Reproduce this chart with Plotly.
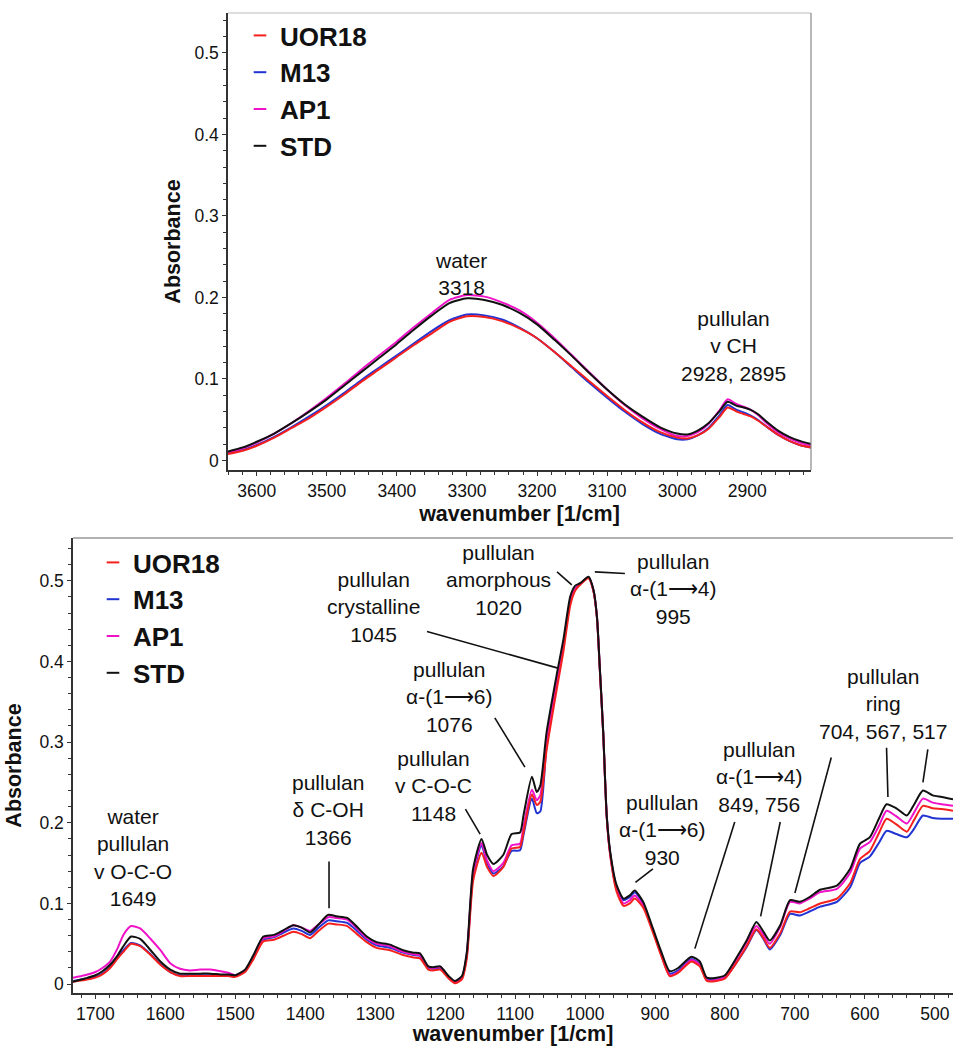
import plotly.graph_objects as go

# ---------------- data: top panel (OH / CH region) ----------------
top_wn = [3641, 3620, 3600, 3575, 3550, 3525, 3500, 3475, 3450, 3425, 3400, 3375, 3350, 3325,
          3300, 3275, 3250, 3225, 3200, 3175, 3150, 3125, 3100, 3075, 3050, 3025, 3000, 2985,
          2970, 2955, 2940, 2928, 2915, 2905, 2895, 2885, 2870, 2855, 2840, 2825, 2809]
top_std = [0.011, 0.016, 0.023, 0.033, 0.046, 0.060, 0.075, 0.092, 0.109, 0.126, 0.143, 0.161, 0.178, 0.193,
           0.199, 0.197, 0.191, 0.181, 0.167, 0.148, 0.128, 0.107, 0.087, 0.069, 0.054, 0.041, 0.033, 0.032,
           0.037, 0.046, 0.060, 0.072, 0.067, 0.065, 0.062, 0.057, 0.046, 0.036, 0.029, 0.024, 0.020]
top_ap1 = [0.010, 0.015, 0.022, 0.033, 0.046, 0.061, 0.077, 0.094, 0.112, 0.129, 0.146, 0.164, 0.181, 0.197,
           0.203, 0.201, 0.194, 0.184, 0.169, 0.150, 0.129, 0.108, 0.087, 0.068, 0.052, 0.039, 0.030, 0.030,
           0.035, 0.045, 0.061, 0.075, 0.069, 0.066, 0.062, 0.056, 0.044, 0.034, 0.027, 0.022, 0.018]
top_uor18 = [0.008, 0.012, 0.018, 0.028, 0.040, 0.052, 0.066, 0.081, 0.097, 0.112, 0.127, 0.142, 0.156, 0.170,
             0.177, 0.176, 0.171, 0.162, 0.150, 0.133, 0.115, 0.097, 0.079, 0.062, 0.047, 0.035, 0.028, 0.027,
             0.031, 0.039, 0.053, 0.065, 0.060, 0.057, 0.054, 0.049, 0.040, 0.031, 0.024, 0.019, 0.016]
top_m13 = [0.009, 0.013, 0.019, 0.029, 0.041, 0.054, 0.068, 0.083, 0.099, 0.114, 0.129, 0.144, 0.159, 0.172,
           0.179, 0.178, 0.173, 0.163, 0.150, 0.133, 0.114, 0.095, 0.077, 0.060, 0.045, 0.033, 0.026, 0.026,
           0.031, 0.040, 0.055, 0.068, 0.062, 0.059, 0.055, 0.050, 0.040, 0.031, 0.024, 0.019, 0.016]

# ---------------- data: bottom panel (fingerprint region) ----------------
bot_wn = [1732, 1715, 1700, 1690, 1679, 1668, 1660, 1649, 1636, 1621, 1607, 1593, 1579, 1565, 1550, 1535,
          1521, 1510, 1500, 1486, 1474, 1460, 1445, 1431, 1417, 1405, 1393, 1381, 1367, 1355, 1340, 1326,
          1312, 1298, 1279, 1260, 1245, 1236, 1224, 1217, 1207, 1195, 1186, 1176, 1169, 1160, 1148, 1140,
          1131, 1117, 1105, 1093, 1088, 1076, 1069, 1064, 1055, 1040, 1031, 1021, 1014, 1007, 995, 988,
          983, 979, 974, 969, 964, 955, 945, 936, 929, 917, 903, 891, 879, 867, 848, 836, 826, 812, 800,
          784, 769, 755, 745, 736, 721, 707, 693, 679, 664, 640, 621, 607, 593, 580, 569, 555, 540, 530,
          517, 503, 490, 474]
bot_std = [0.003, 0.007, 0.011, 0.016, 0.024, 0.036, 0.047, 0.059, 0.056, 0.042, 0.028, 0.018, 0.013, 0.013, 0.013, 0.013,
           0.012, 0.012, 0.011, 0.018, 0.036, 0.059, 0.061, 0.067, 0.073, 0.070, 0.064, 0.074, 0.086, 0.084, 0.082, 0.071,
           0.059, 0.052, 0.049, 0.042, 0.039, 0.038, 0.022, 0.021, 0.022, 0.010, 0.004, 0.010, 0.040, 0.143, 0.180, 0.160,
           0.149, 0.160, 0.186, 0.188, 0.209, 0.257, 0.238, 0.246, 0.312, 0.386, 0.427, 0.481, 0.494, 0.497, 0.505, 0.489,
           0.456, 0.394, 0.312, 0.209, 0.164, 0.123, 0.106, 0.110, 0.116, 0.102, 0.069, 0.040, 0.016, 0.020, 0.034, 0.028, 0.008, 0.008, 0.011,
           0.032, 0.054, 0.077, 0.065, 0.054, 0.073, 0.104, 0.102, 0.108, 0.117, 0.122, 0.143, 0.174, 0.182, 0.205, 0.223, 0.218, 0.209, 0.222,
           0.240, 0.234, 0.232, 0.229]
bot_ap1 = [0.008, 0.011, 0.015, 0.020, 0.028, 0.045, 0.061, 0.072, 0.069, 0.056, 0.042, 0.026, 0.019, 0.017, 0.018, 0.018,
           0.016, 0.014, 0.011, 0.017, 0.034, 0.057, 0.059, 0.066, 0.073, 0.070, 0.066, 0.074, 0.083, 0.082, 0.080, 0.069,
           0.057, 0.050, 0.047, 0.040, 0.037, 0.036, 0.021, 0.020, 0.021, 0.009, 0.003, 0.009, 0.037, 0.138, 0.175, 0.153,
           0.140, 0.150, 0.172, 0.174, 0.195, 0.241, 0.228, 0.234, 0.300, 0.378, 0.420, 0.476, 0.490, 0.496, 0.504, 0.488,
           0.455, 0.392, 0.310, 0.207, 0.160, 0.118, 0.100, 0.104, 0.110, 0.098, 0.066, 0.036, 0.011, 0.015, 0.030, 0.024, 0.005, 0.005, 0.009,
           0.030, 0.052, 0.072, 0.061, 0.050, 0.071, 0.102, 0.100, 0.106, 0.114, 0.118, 0.138, 0.168, 0.176, 0.196, 0.215, 0.208, 0.199, 0.212,
           0.230, 0.225, 0.223, 0.221]
bot_uor18 = [0.003, 0.005, 0.008, 0.012, 0.020, 0.032, 0.040, 0.050, 0.047, 0.036, 0.024, 0.015, 0.010, 0.010, 0.010, 0.010,
             0.010, 0.010, 0.009, 0.015, 0.031, 0.053, 0.055, 0.060, 0.065, 0.062, 0.057, 0.066, 0.075, 0.074, 0.072, 0.062,
             0.052, 0.045, 0.042, 0.036, 0.033, 0.032, 0.018, 0.017, 0.018, 0.007, 0.001, 0.006, 0.032, 0.128, 0.163, 0.145,
             0.134, 0.145, 0.168, 0.170, 0.188, 0.235, 0.222, 0.226, 0.290, 0.368, 0.412, 0.470, 0.488, 0.495, 0.503, 0.487,
             0.454, 0.392, 0.310, 0.207, 0.160, 0.115, 0.097, 0.100, 0.106, 0.095, 0.064, 0.035, 0.010, 0.014, 0.028, 0.022, 0.004, 0.004, 0.007,
             0.026, 0.047, 0.068, 0.057, 0.045, 0.063, 0.090, 0.089, 0.094, 0.100, 0.106, 0.125, 0.155, 0.165, 0.187, 0.205, 0.198, 0.189, 0.203,
             0.221, 0.218, 0.217, 0.215]
bot_m13 = [0.004, 0.006, 0.009, 0.013, 0.021, 0.033, 0.042, 0.051, 0.048, 0.037, 0.025, 0.015, 0.011, 0.011, 0.011, 0.011,
           0.011, 0.011, 0.010, 0.016, 0.033, 0.055, 0.058, 0.064, 0.069, 0.066, 0.061, 0.070, 0.079, 0.078, 0.076, 0.066,
           0.055, 0.048, 0.045, 0.039, 0.036, 0.035, 0.020, 0.019, 0.020, 0.008, 0.002, 0.008, 0.036, 0.135, 0.172, 0.150,
           0.137, 0.146, 0.165, 0.166, 0.185, 0.230, 0.212, 0.214, 0.295, 0.375, 0.418, 0.476, 0.490, 0.496, 0.504, 0.488,
           0.455, 0.393, 0.311, 0.208, 0.162, 0.120, 0.104, 0.108, 0.114, 0.100, 0.067, 0.037, 0.013, 0.017, 0.031, 0.025, 0.006, 0.006, 0.008,
           0.026, 0.046, 0.067, 0.056, 0.043, 0.061, 0.087, 0.085, 0.090, 0.096, 0.102, 0.120, 0.150, 0.158, 0.175, 0.190, 0.186, 0.182, 0.192,
           0.209, 0.206, 0.205, 0.205]

series_names = ["UOR18", "M13", "AP1", "STD"]
series_colors = {"UOR18": "#f5201e", "M13": "#2233d4", "AP1": "#f012c8", "STD": "#111111"}
top_series = {"UOR18": top_uor18, "M13": top_m13, "AP1": top_ap1, "STD": top_std}
bot_series = {"UOR18": bot_uor18, "M13": bot_m13, "AP1": bot_ap1, "STD": bot_std}
draw_order = ["M13", "AP1", "UOR18", "STD"]

ARROW = "⟶"
# annotation labels: (text, wavenumber, absorbance)
top_labels = [("water<br>3318", 3308, 0.229),
              ("pullulan<br>v CH<br>2928, 2895", 2920, 0.141)]
bot_labels = [("water<br>pullulan<br>v O-C-O<br>1649", 1646, 0.157),
              ("pullulan<br>δ C-OH<br>1366", 1367, 0.216),
              ("pullulan<br>v C-O-C<br>1148", 1217, 0.246),
              ("pullulan<br>α-(1" + ARROW + "6)<br>1076", 1195, 0.356),
              ("pullulan<br>crystalline<br>1045", 1302, 0.467),
              ("pullulan<br>amorphous<br>1020", 1124, 0.501),
              ("pullulan<br>α-(1" + ARROW + "4)<br>995", 874, 0.490),
              ("pullulan<br>α-(1" + ARROW + "6)<br>930", 890, 0.191),
              ("pullulan<br>α-(1" + ARROW + "4)<br>849, 756", 752, 0.257),
              ("pullulan<br>ring<br>704, 567, 517", 574, 0.347)]
# leader lines: (wn0, a0, wn1, a1)
bot_leaders = [(1366, 0.152, 1366, 0.094),
               (1171, 0.217, 1150, 0.186),
               (1129, 0.330, 1086, 0.269),
               (1226, 0.437, 1040, 0.392),
               (1040, 0.511, 1019, 0.495),
               (943, 0.509, 986, 0.511),
               (903, 0.143, 928, 0.126),
               (786, 0.201, 843, 0.044),
               (721, 0.201, 749, 0.084),
               (648, 0.281, 700, 0.113),
               (569, 0.293, 567, 0.232),
               (510, 0.291, 517, 0.250)]

FONT = "Liberation Sans, Arial, sans-serif"
W, H = 953, 1046

fig = go.Figure()

for name in draw_order:
    fig.add_trace(go.Scatter(x=top_wn, y=top_series[name], mode="lines", name=name,
                             line=dict(color=series_colors[name], width=2, shape="spline", smoothing=0.6),
                             xaxis="x", yaxis="y", showlegend=False, legendgroup="t" + name))
    fig.add_trace(go.Scatter(x=bot_wn, y=bot_series[name], mode="lines", name=name,
                             line=dict(color=series_colors[name], width=2, shape="spline", smoothing=0.6),
                             xaxis="x2", yaxis="y2", showlegend=False, legendgroup="b" + name))

# legend entries (short dash symbols like the original)
for name in series_names:
    for ax, lg, grp in (("x", "legend", "t"), ("x2", "legend2", "b")):
        fig.add_trace(go.Scatter(x=[None], y=[None], mode="markers", name=name,
                                 marker=dict(symbol="line-ew", size=9, color=series_colors[name],
                                             line=dict(width=2, color=series_colors[name])),
                                 xaxis=ax, yaxis="y" if ax == "x" else "y2",
                                 legend=lg, legendgroup=grp + name, showlegend=True))

axis_common = dict(showgrid=False, zeroline=False, showline=True, linecolor="#333", linewidth=1.5,
                   ticks="outside", ticklen=4, tickwidth=1.2, tickcolor="#333",
                   tickfont=dict(family=FONT, size=17.5, color="#111"))
xminor = dict(dtick=20, ticks="outside", ticklen=3, tickwidth=1, tickcolor="#333")
yminor = dict(dtick=0.02, ticks="outside", ticklen=3, tickwidth=1, tickcolor="#333")
title_font = dict(family=FONT, size=21.5, color="#111")
legend_font = dict(family=FONT, size=26, color="#111", weight="bold")

fig.update_layout(
    width=W, height=H, margin=dict(l=0, r=0, t=0, b=0),
    paper_bgcolor="white", plot_bgcolor="white",
    xaxis=dict(domain=[228 / W, 811 / W], range=[3641, 2809], dtick=100, tick0=0, minor=xminor,
               anchor="y", title=dict(text="<b>wavenumber [1/cm]</b>", font=title_font, standoff=6),
               **axis_common),
    yaxis=dict(domain=[1 - 470 / H, 1 - 13 / H], range=[-0.0117, 0.549], dtick=0.1, tick0=0, minor=yminor,
               anchor="x", title=dict(text="<b>Absorbance</b>", font=title_font, standoff=8),
               **axis_common),
    xaxis2=dict(domain=[73 / W, 1.0], range=[1732, 474], dtick=100, tick0=0, minor=xminor,
                anchor="y2", title=dict(text="<b>wavenumber [1/cm]</b>", font=title_font, standoff=6),
                **axis_common),
    yaxis2=dict(domain=[1 - 993 / H, 1 - 538 / H], range=[-0.011, 0.553], dtick=0.1, tick0=0, minor=yminor,
                anchor="x2", title=dict(text="<b>Absorbance</b>", font=title_font, standoff=12),
                **axis_common),
    legend=dict(x=240 / W, y=1 - 12 / H, xanchor="left", yanchor="top", bgcolor="rgba(0,0,0,0)",
                font=legend_font, tracegroupgap=0, itemwidth=30, traceorder="normal"),
    legend2=dict(x=93 / W, y=1 - 539 / H, xanchor="left", yanchor="top", bgcolor="rgba(0,0,0,0)",
                 font=legend_font, tracegroupgap=0, itemwidth=30, traceorder="normal"),
)

# light frame (top and right edges)
for xr, yr, col in (("x domain", "y domain", "#bbbbbb"), ("x2 domain", "y2 domain", "#666666")):
    fig.add_shape(type="line", xref=xr, yref=yr, x0=0, x1=1, y0=1, y1=1, line=dict(color=col, width=1.2))
fig.add_shape(type="line", xref="x domain", yref="y domain", x0=1, x1=1, y0=0, y1=1,
              line=dict(color="#888888", width=1.2))

for text, wn, a in top_labels:
    fig.add_annotation(x=wn, y=a, xref="x", yref="y", text=text, showarrow=False,
                       font=dict(family=FONT, size=21, color="#111"), align="center")
for text, wn, a in bot_labels:
    fig.add_annotation(x=wn, y=a, xref="x2", yref="y2", text=text, showarrow=False,
                       font=dict(family=FONT, size=21, color="#111"), align="center")
for w0, a0, w1, a1 in bot_leaders:
    fig.add_shape(type="line", xref="x2", yref="y2", x0=w0, y0=a0, x1=w1, y1=a1,
                  line=dict(color="#111", width=1.6))

fig.write_html("out.html")
